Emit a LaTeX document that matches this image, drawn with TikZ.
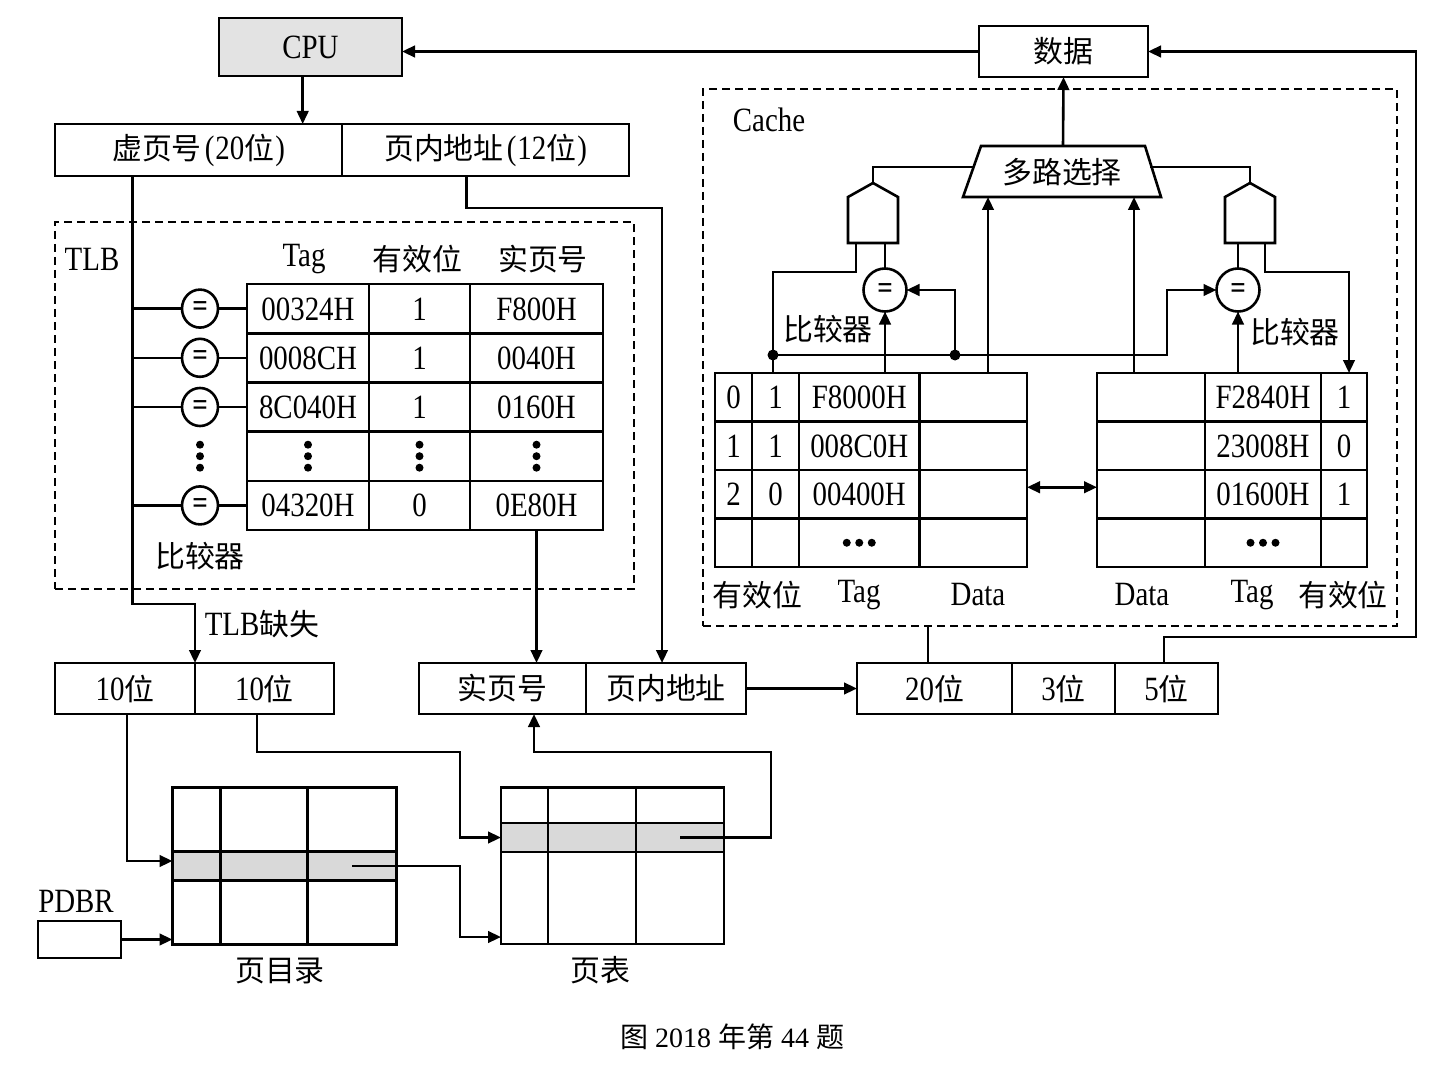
\documentclass[tikz,border=0pt]{standalone}
\usepackage{fontspec}
\setmainfont{Liberation Serif}[FakeStretch=0.85]
\newfontfamily\cjk{Noto Sans CJK SC}[Scale=0.88]
\newfontfamily\capfont{Liberation Serif}
\newfontfamily\capcjk{Noto Sans CJK SC}
\usetikzlibrary{arrows.meta,shapes.geometric,matrix,calc}
\newcommand\zh[1]{{\cjk #1}}
\newcommand\eqs{\raisebox{-8pt}[0pt][0pt]{=}}
\begin{document}
\begin{tikzpicture}[x=1pt,y=-1pt,font=\fontsize{34}{40}\selectfont,
 wire/.style={line width=2.6pt},
 conn/.style={line width=2.6pt,-{Triangle[length=13pt,width=11.5pt]}},
 dconn/.style={line width=2.6pt,{Triangle[length=13pt,width=11.5pt]}-{Triangle[length=13pt,width=11.5pt]}},
 bx/.style={draw,line width=2.6pt,inner sep=0pt,outer sep=0pt,minimum height=51pt},
 lbl/.style={inner sep=0pt},
 dbox/.style={draw,line width=2.1pt,dash pattern=on 8pt off 5pt,inner sep=0pt,outer sep=0pt},
 cmp/.style={draw,ellipse,line width=2.6pt,inner sep=0pt,outer sep=0pt,font=\fontsize{32}{32}\selectfont\bfseries},
 jdot/.style={circle,fill,inner sep=0pt,minimum size=11pt},
 tbl/.style={matrix of nodes,nodes in empty cells,inner sep=0pt,outer sep=0pt,column sep=-2.6pt,row sep=-2.6pt,
   nodes={draw,line width=2.6pt,inner sep=0pt,outer sep=0pt,anchor=center,text height=23pt,text depth=0pt}},
]
\useasboundingbox (0,0) rectangle (1448,1086);

% ---------- top ----------
\node[bx,fill=gray!22,minimum width=183pt,minimum height=58pt] (cpu) at (310.5,47) {CPU};
\node[bx,minimum width=169pt] (data) at (1063.5,51.5) {\zh{数据}};
\node[bx,minimum width=287pt,minimum height=52pt] (va1) at (198.5,150) {\zh{虚页号}\hspace{3pt}(\hspace{1pt}20\zh{位}\hspace{1pt})};
\node[bx,minimum width=287pt,minimum height=52pt] (va2) at (485.5,150) {\zh{页内地址}\hspace{3pt}(\hspace{1pt}12\zh{位}\hspace{1pt})};
\draw[conn] (cpu.south -| 302.7,0) -- (va1.north -| 302.7,0);
\draw[conn] (data.west) -- (data.west -| cpu.east);

% ---------- TLB ----------
\node[dbox,minimum width=579pt,minimum height=367pt] (tlbbox) at (344.5,405.5) {};
\node[lbl] (tlblab) at (92,259) {TLB};
\node[lbl] (h1) at (304,259) {Tag};
\node[lbl] (h2) at (417.5,259) {\zh{有效位}};
\node[lbl] (h3) at (543,259) {\zh{实页号}};
\matrix[tbl,anchor=north west,nodes={minimum height=49.2pt},
  column 1/.style={nodes={minimum width=122pt}},
  column 2/.style={nodes={minimum width=101pt}},
  column 3/.style={nodes={minimum width=133pt}}] (tlb) at (245.7,282.7) {
 00324H & 1 & F800H \\
 0008CH & 1 & 0040H \\
 8C040H & 1 & 0160H \\
  & & \\
 04320H & 0 & 0E80H \\
};
\foreach \r/\n in {1/e1,2/e2,3/e3,5/e5}{
  \node[cmp,minimum width=36pt,minimum height=38pt] (\n) at (tlb-\r-1.west -| 200,0) {\eqs};
}
\coordinate (vtop) at (132.6,176);
\coordinate (vbot) at (132.6,604);
\foreach \n in {e1,e2,e3,e5}{
  \draw[wire] (\n.west -| vtop) -- (\n.west);
  \draw[wire] (\n.east) -- (\n.east -| tlb-1-1.west);
}
\foreach \c in {tlb-4-1,tlb-4-2,tlb-4-3}{
  \foreach \dy in {-11.5,0,11.5}{
    \fill ($(\c.center)+(0,\dy)$) circle[radius=4pt];
  }
}
\foreach \dy in {-11.5,0,11.5}{
  \fill ($(tlb-4-1.center -| 200,0)+(0,\dy)$) circle[radius=4pt];
}
\node[lbl] (tlbcmp) at (200,556) {\zh{比较器}};
\node[lbl] (miss) at (262,624) {TLB\zh{缺失}};

% ---------- address boxes ----------
\node[bx,minimum width=140pt] (b1) at (125,688.5) {10\zh{位}};
\node[bx,minimum width=139pt] (b2) at (264.5,688.5) {10\zh{位}};
\node[bx,minimum width=167pt] (p1) at (502.5,688.5) {\zh{实页号}};
\node[bx,minimum width=160pt] (p2) at (666,688.5) {\zh{页内地址}};
\node[bx,minimum width=155pt] (c1) at (934.5,688.5) {20\zh{位}};
\node[bx,minimum width=103pt] (c2) at (1063.5,688.5) {3\zh{位}};
\node[bx,minimum width=103pt] (c3) at (1166.5,688.5) {5\zh{位}};

\draw[conn] (vtop) -- (vbot) -| (b1.north east);
\draw[conn] (va2.south -| 466.5,0) -- (466.5,208) -| (p2.north -| 662,0);
\draw[conn] (tlb-5-3.south) -- (tlb-5-3.south |- p1.north);
\draw[conn] (p2.east) -- (c1.west);

% ---------- Cache ----------
\node[dbox,minimum width=694pt,minimum height=537pt] (cache) at (1050,357.5) {};
\node[lbl] (cachelab) at (769,120) {Cache};
\draw[wire] (963,197) -- (981,146) -- (1145,146) -- (1161,197) -- cycle;
\node[lbl] (mux) at (1062,172) {\zh{多路选择}};
\coordinate (muxT) at (1063,146);
\coordinate (muxL) at (973.6,167);
\coordinate (muxR) at (1150.4,167);
\coordinate (muxBL) at (988,197);
\coordinate (muxBR) at (1134,197);
\draw[conn] (muxT) -- (data.south);

\draw[wire] (848,243) -- (848,197) -- (873,183) -- (898,197) -- (898,243) -- cycle;
\draw[wire] (1225,243) -- (1225,197) -- (1250,183) -- (1275,197) -- (1275,243) -- cycle;
\coordinate (gLo) at (873,183);
\coordinate (gRo) at (1250,183);
\coordinate (gLi) at (856,243);
\coordinate (gRi) at (1265,243);
\draw[wire] (gLo) |- (muxL);
\draw[wire] (gRo) |- (muxR);

\node[cmp,minimum size=43pt] (cL) at (885,290) {\eqs};
\node[cmp,minimum size=43pt] (cR) at (1238,290) {\eqs};

\matrix[tbl,anchor=north west,nodes={minimum height=48.5pt},
  column 1/.style={nodes={minimum width=37pt}},
  column 2/.style={nodes={minimum width=47pt}},
  column 3/.style={nodes={minimum width=120.5pt}},
  column 4/.style={nodes={minimum width=107.5pt}}] (lc) at (713.7,371.7) {
 0 & 1 & F8000H & \\
 1 & 1 & 008C0H & \\
 2 & 0 & 00400H & \\
  & & & \\
};
\matrix[tbl,anchor=north west,nodes={minimum height=48.5pt},
  column 1/.style={nodes={minimum width=108pt}},
  column 2/.style={nodes={minimum width=116pt}},
  column 3/.style={nodes={minimum width=46pt}}] (rc) at (1095.7,371.7) {
  & F2840H & 1 \\
  & 23008H & 0 \\
  & 01600H & 1 \\
  & & \\
};
\foreach \dx in {-12.5,0,12.5}{
  \fill ($(lc-4-3.center)+(\dx,0)$) circle[radius=4pt];
  \fill ($(rc-4-2.center)+(\dx,0)$) circle[radius=4pt];
}
\node[lbl] (lv) at (757.5,595) {\zh{有效位}};
\node[lbl] (lt) at (859,595) {Tag};
\node[lbl] (ld) at (978,595) {Data};
\node[lbl] (rd) at (1142,595) {Data};
\node[lbl] (rt) at (1252,595) {Tag};
\node[lbl] (rv) at (1343,595) {\zh{有效位}};
\node[lbl] (lcmp) at (828,329) {\zh{比较器}};
\node[lbl] (rcmp) at (1295,332) {\zh{比较器}};

\node[jdot] (dA) at (773,355) {};
\node[jdot] (dB) at (955,355) {};
\draw[wire] (gLi) |- (773,272) -- (dA.center) -- (lc-1-2.north -| dA);
\draw[wire] (cL.north) -- (cL.north |- gLi);
\draw[conn] (cL.south |- lc-1-3.north) -- (cL.south);
\draw[conn] (dB.center) |- (cL.east);
\draw[conn] (dA.center) -- (1167,355) |- (cR.west);
\draw[conn] (lc-1-4.north -| muxBL) -- (muxBL);
\draw[conn] (rc-1-1.north -| muxBR) -- (muxBR);
\draw[wire] (cR.north) -- (cR.north |- gRi);
\draw[conn] (cR.south |- rc-1-2.north) -- (cR.south);
\draw[conn] (gRi) |- (1349,272) -- (rc-1-3.north -| 1349,0);
\draw[dconn] ($(lc-3-4.east)+(0,-7)$) -- ($(rc-3-1.west)+(0,-7)$);

\draw[wire] (c1.north -| 928,0) -- (cache.south -| 928,0);
\draw[conn] (c3.north -| 1164,0) |- (1416,637) |- (data.east);

% ---------- page directory / page table ----------
\matrix[tbl,anchor=north west,
  column 1/.style={nodes={minimum width=48pt}},
  column 2/.style={nodes={minimum width=87pt}},
  column 3/.style={nodes={minimum width=89pt}},
  row 1/.style={nodes={minimum height=64pt}},
  row 2/.style={nodes={minimum height=29pt,fill=gray!30}},
  row 3/.style={nodes={minimum height=64pt}}] (pd) at (171.2,786.2) {
  & & \\
  & & \\
  & & \\
};
\matrix[tbl,anchor=north west,
  column 1/.style={nodes={minimum width=47pt}},
  column 2/.style={nodes={minimum width=88pt}},
  column 3/.style={nodes={minimum width=88pt}},
  row 1/.style={nodes={minimum height=35.5pt}},
  row 2/.style={nodes={minimum height=29pt,fill=gray!30}},
  row 3/.style={nodes={minimum height=92pt}}] (pt) at (499.7,786.2) {
  & & \\
  & & \\
  & & \\
};
\node[lbl] (pdlab) at (280,971) {\zh{页目录}};
\node[lbl] (ptlab) at (600,970) {\zh{页表}};
\node[lbl] (pdbrlab) at (76,901) {PDBR};
\node[bx,minimum width=83pt,minimum height=37pt] (pdbr) at (79.5,939.5) {};
\draw[conn] (pdbr.east) -- (pdbr.east -| pd-3-1.west);

\draw[conn] (b1.south -| 127,0) |- ($(pd-2-1.west)+(0,-5)$);
\draw[conn] (b2.south -| 257,0) -- (257,752) -| (460,837.5) -- (pt-2-1.west);
\draw[conn] (pd-2-3.center) -| (460,937) -- (pt-3-1.west |- 0,937);
\draw[conn] (pt-2-3.center) -| (771,752) -| (p1.south -| 534,0);

% ---------- caption ----------
\node[lbl,font=\fontsize{28}{32}\selectfont\capfont] (cap) at (732,1037) {{\capcjk 图} 2018 {\capcjk 年第} 44 {\capcjk 题}};
\end{tikzpicture}
\end{document}
